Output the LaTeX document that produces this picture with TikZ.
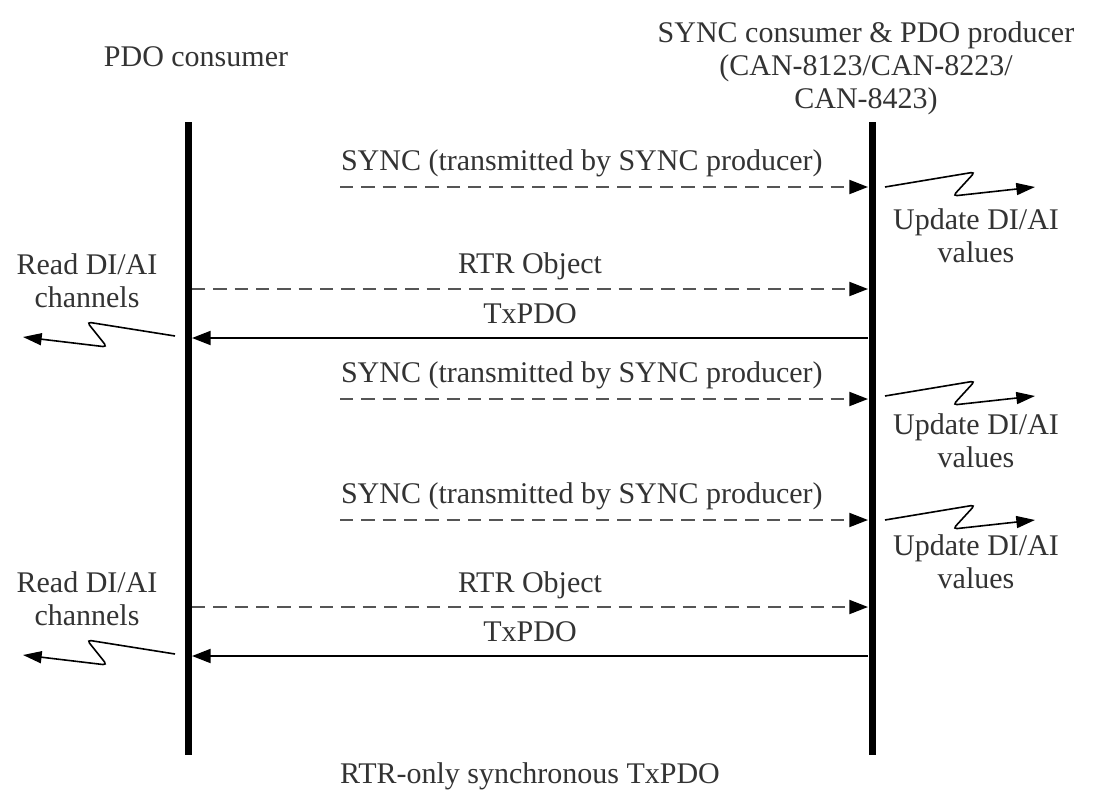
\documentclass[tikz,border=0pt]{standalone}
\usepackage{fontspec}
\setmainfont{Liberation Serif}
\usetikzlibrary{arrows.meta}
\definecolor{msgtext}{HTML}{333333}
\definecolor{msgdash}{HTML}{555555}
\tikzset{
  lifeline/.style={line width=5.25pt},
  syncmsg/.style={draw=msgdash,line width=1.5pt,dash pattern=on 10pt off 6pt,
    -{Triangle[length=14pt,width=10.5pt,color=black]}},
  datamsg/.style={draw=black,line width=1.5pt,-{Triangle[length=14pt,width=10.5pt]}},
  squig/.style={line width=1.2pt,rounded corners=3pt,-{Triangle[length=14pt,width=9pt]}},
  msglabel/.style={inner sep=0pt,text depth=0pt,text=msgtext},
  sidelabel/.style={msglabel,align=center,anchor=north}
}

\begin{document}
\begin{tikzpicture}[x=0.75pt,y=-0.75pt,font=\fontsize{22.5}{25}\selectfont]
        \useasboundingbox (0,0) rectangle (1096,789);
        % Two lifelines, messages run between them top to bottom.
        \coordinate (cons-top) at (188,122);
        \coordinate (cons-bot) at (188,755);
        \coordinate (prod-top) at (872,122);
        \coordinate (prod-bot) at (872,755);
        \node[msglabel] (cons-head) at (196,57) {PDO consumer};
        \node[msglabel,align=center] (prod-head) at (866,65)
          {SYNC consumer \& PDO producer\\(CAN-8123/CAN-8223/\\CAN-8423)};
        \draw[lifeline] (cons-top) -- (cons-bot);
        \draw[lifeline] (prod-top) -- (prod-bot);

        \coordinate (sync1-s) at (340,187);
        \coordinate (sync1-e) at (868,187);
        \coordinate (rtr1-s) at (192,289);
        \coordinate (rtr1-e) at (868,289);
        \coordinate (tx1-s) at (868,338);
        \coordinate (tx1-e) at (192,338);
        \coordinate (sync2-s) at (340,399);
        \coordinate (sync2-e) at (868,399);
        \coordinate (sync3-s) at (340,520);
        \coordinate (sync3-e) at (868,520);
        \coordinate (rtr2-s) at (192,607);
        \coordinate (rtr2-e) at (868,607);
        \coordinate (tx2-s) at (868,656);
        \coordinate (tx2-e) at (192,656);

        \draw[syncmsg] (sync1-s) -- node[msglabel,pos=0,anchor=south west,yshift=12pt] (sync1-lbl)
          {SYNC (transmitted by SYNC producer)} (sync1-e);
        \draw[syncmsg] (rtr1-s) -- node[msglabel,midway,anchor=south,yshift=11pt] (rtr1-lbl)
          {RTR Object} (rtr1-e);
        \draw[datamsg] (tx1-s) -- node[msglabel,midway,anchor=south,yshift=10.5pt] (tx1-lbl)
          {TxPDO} (tx1-e);
        \draw[syncmsg] (sync2-s) -- node[msglabel,pos=0,anchor=south west,yshift=12pt] (sync2-lbl)
          {SYNC (transmitted by SYNC producer)} (sync2-e);
        \draw[syncmsg] (sync3-s) -- node[msglabel,pos=0,anchor=south west,yshift=12pt] (sync3-lbl)
          {SYNC (transmitted by SYNC producer)} (sync3-e);
        \draw[syncmsg] (rtr2-s) -- node[msglabel,midway,anchor=south,yshift=10pt] (rtr2-lbl)
          {RTR Object} (rtr2-e);
        \draw[datamsg] (tx2-s) -- node[msglabel,midway,anchor=south,yshift=10.5pt] (tx2-lbl)
          {TxPDO} (tx2-e);

        % local actions drawn as lightning arrows
        \coordinate (upd1) at (885,187);
        \coordinate (upd2) at (885,396);
        \coordinate (upd3) at (885,520);
        \coordinate (read1) at (175,336);
        \coordinate (read2) at (175,654);
        \draw[squig] (upd1) -- ++(90,-15) -- ++(-22,24) -- ++(82,-9);
        \draw[squig] (upd2) -- ++(90,-15) -- ++(-22,24) -- ++(82,-9);
        \draw[squig] (upd3) -- ++(90,-15) -- ++(-22,24) -- ++(82,-9);
        \draw[squig] (read1) -- ++(-88,-14) -- ++(20,25) -- ++(-84,-10);
        \draw[squig] (read2) -- ++(-88,-14) -- ++(20,25) -- ++(-84,-10);
        \node[sidelabel] (upd1-lbl) at (976,208) {Update DI/AI\\values};
        \node[sidelabel] (upd2-lbl) at (976,413) {Update DI/AI\\values};
        \node[sidelabel] (upd3-lbl) at (976,534) {Update DI/AI\\values};
        \node[sidelabel] (read1-lbl) at (87,253) {Read DI/AI\\channels};
        \node[sidelabel] (read2-lbl) at (87,571) {Read DI/AI\\channels};

        \node[msglabel] (caption) at (530,773) {RTR-only synchronous TxPDO};
\end{tikzpicture}
\end{document}
